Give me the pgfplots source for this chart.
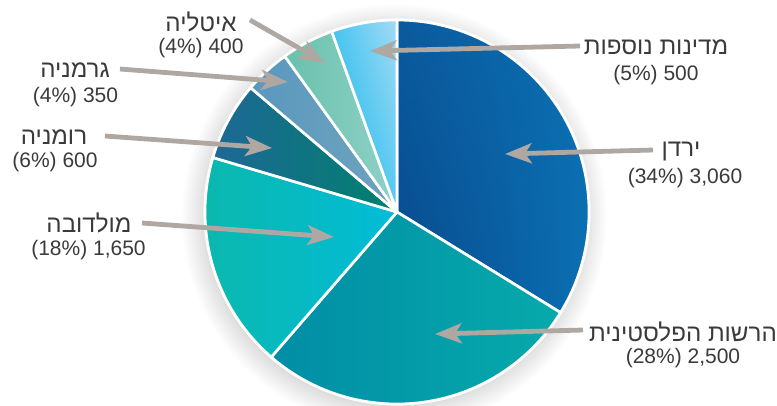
\documentclass[border=0pt]{standalone}
\usepackage{pgfplots}
\pgfplotsset{compat=1.18}
\usepackage{fontspec}
\setmainfont{Liberation Sans}
\newfontfamily\hebfont[Script=Hebrew, Scale=1.15]{Liberation Sans}
\TeXXeTstate=1
\usetikzlibrary{arrows.meta,shadows,shadings}

\definecolor{txt}{HTML}{3A3A3A}
\definecolor{arr}{HTML}{AEA7A2}
% sector colours (two or four corners each)
\definecolor{jA}{HTML}{08488C}\definecolor{jB}{HTML}{0A70B2}\definecolor{jC}{HTML}{0A5A9E}
\definecolor{pA}{HTML}{018DA6}\definecolor{pB}{HTML}{06AAAB}
\definecolor{mA}{HTML}{0BB8AC}\definecolor{mB}{HTML}{02BCD8}
\definecolor{rA}{HTML}{1E6896}\definecolor{rB}{HTML}{00806C}
\definecolor{gA}{HTML}{5A98BE}\definecolor{gB}{HTML}{6FA3BE}
\definecolor{iA}{HTML}{69C1AC}\definecolor{iB}{HTML}{90D1C8}
\definecolor{oA}{HTML}{0DB6EC}\definecolor{oB}{HTML}{A3DBF5}

% values (total 9060), clockwise from 12 o'clock
\def\total{9060}
\pgfmathsetmacro\angA{90}
\pgfmathsetmacro\angB{\angA-3060/\total*360}% Jordan
\pgfmathsetmacro\angC{\angB-2500/\total*360}% PA
\pgfmathsetmacro\angD{\angC-1650/\total*360}% Moldova
\pgfmathsetmacro\angE{\angD-600/\total*360}% Romania
\pgfmathsetmacro\angF{\angE-350/\total*360}% Germany
\pgfmathsetmacro\angG{\angF-400/\total*360}% Italy
\pgfmathsetmacro\angH{\angG-500/\total*360}% other

\newcommand{\sector}[3]{%
  \shadedraw[#3, draw=white, line width=2pt, line join=round]
    (axis cs:397,212) -- ++(#1:144pt) arc[start angle=#1, end angle=#2, radius=144pt] -- cycle;}

\tikzset{
  lbl/.style={text=txt, inner sep=0pt, font=\fontsize{15.75}{19.5}\selectfont},
  heb/.style={lbl, font=\fontsize{15.75}{19.5}\selectfont\hebfont},
  pt/.style={draw=arr, line width=3.6pt, -{Stealth[length=20pt, width=15pt, inset=5pt]}}
}

\begin{document}
\begin{tikzpicture}
\begin{axis}[
    hide axis, scale only axis,
    width=582.75pt, height=303.75pt,
    xmin=0, xmax=777, ymin=0, ymax=405,
    y dir=reverse, clip=false,
  ]
  \fill[white, circular drop shadow={shadow xshift=-2pt, shadow yshift=-3pt, opacity=0.35}]
    (axis cs:397,212) circle[radius=145pt];

  \sector{\angA}{\angB}{lower left=jA, upper left=jC, upper right=jB, lower right=jB}
  \sector{\angB}{\angC}{left color=pA, right color=pB}
  \sector{\angC}{\angD}{left color=mA, right color=mB}
  \sector{\angD}{\angE}{left color=rA, right color=rB}
  \sector{\angE}{\angF}{left color=gA, right color=gB}
  \sector{\angF}{\angG}{left color=iA, right color=iB}
  \sector{\angG}{\angH}{lower left=oA, upper left=oA!60!oB, upper right=oB, lower right=oA!50!oB}

  % arrows
  \draw[pt] (axis cs:250,20)  -- (axis cs:325,63);
  \draw[pt] (axis cs:120,69)  -- (axis cs:288,82);
  \draw[pt] (axis cs:105,136) -- (axis cs:272,148);
  \draw[pt] (axis cs:142,223) -- (axis cs:334,237);
  \draw[pt] (axis cs:580,46)  -- (axis cs:370,51);
  \draw[pt] (axis cs:653,150) -- (axis cs:505,154);
  \draw[pt] (axis cs:583,330) -- (axis cs:435,334);

  % labels: Hebrew name, then value (share)
  \node[heb] at (axis cs:201,22)  {\beginR איטליה\endR};
  \node[lbl] at (axis cs:201,48)  {(4\%) 400};
  \node[heb] at (axis cs:75,70)   {\beginR גרמניה\endR};
  \node[lbl] at (axis cs:75.5,97) {(4\%) 350};
  \node[heb] at (axis cs:54,137)  {\beginR רומניה\endR};
  \node[lbl] at (axis cs:55,162)  {(6\%) 600};
  \node[heb] at (axis cs:89,223)  {\beginR מולדובה\endR};
  \node[lbl] at (axis cs:88.5,250){(18\%) 1,650};
  \node[heb] at (axis cs:656,47)  {\beginR מדינות נוספות\endR};
  \node[lbl] at (axis cs:656,75)  {(5\%) 500};
  \node[heb] at (axis cs:681,152) {\beginR ירדן\endR};
  \node[lbl] at (axis cs:685,178) {(34\%) 3,060};
  \node[heb] at (axis cs:683,332) {\beginR הרשות הפלסטינית\endR};
  \node[lbl] at (axis cs:683,358) {(28\%) 2,500};
\end{axis}
\pgfresetboundingbox
\useasboundingbox (0,0) rectangle (582.75pt,303.75pt);
\end{tikzpicture}
\end{document}
